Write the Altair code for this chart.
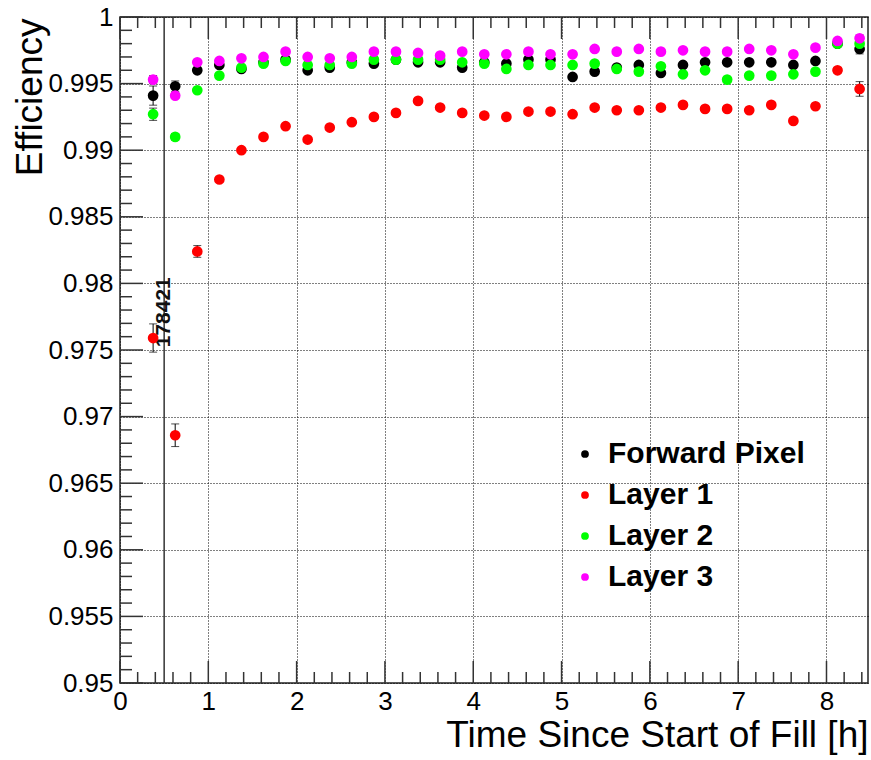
import altair as alt
import pandas as pd

# ---------------- data ----------------
times = [0.375 + 0.25 * k for k in range(33)]

fpix = [0.9941, 0.9948, 0.9960, 0.9964, 0.9961, 0.9966, 0.9968, 0.9960, 0.9962, 0.9966,
        0.9965, 0.9968, 0.9966, 0.9966, 0.9962, 0.9966, 0.9965, 0.9968, 0.9968, 0.9955,
        0.9959, 0.9962, 0.9964, 0.9958, 0.9964, 0.9966, 0.9966, 0.9966, 0.9966, 0.9964,
        0.9967, 0.9980, 0.9976]
layer1 = [0.9759, 0.9686, 0.9824, 0.9878, 0.9900, 0.9910, 0.9918, 0.9908, 0.9917, 0.9921,
          0.9925, 0.9928, 0.9937, 0.9932, 0.9928, 0.9926, 0.9925, 0.9929, 0.9929, 0.9927,
          0.9932, 0.9930, 0.9930, 0.9932, 0.9934, 0.9931, 0.9931, 0.9930, 0.9934, 0.9922,
          0.9933, 0.9960, 0.9946]
layer2 = [0.9927, 0.9910, 0.9945, 0.9956, 0.9962, 0.9965, 0.9967, 0.9964, 0.9964, 0.9965,
          0.9968, 0.9968, 0.9968, 0.9968, 0.9966, 0.9965, 0.9961, 0.9964, 0.9964, 0.9964,
          0.9965, 0.9961, 0.9959, 0.9963, 0.9957, 0.9960, 0.9953, 0.9956, 0.9956, 0.9957,
          0.9959, 0.9980, 0.9980]
layer3 = [0.9953, 0.9941, 0.9966, 0.9967, 0.9969, 0.9970, 0.9974, 0.9970, 0.9969, 0.9970,
          0.9974, 0.9974, 0.9973, 0.9971, 0.9974, 0.9972, 0.9972, 0.9974, 0.9972, 0.9972,
          0.9976, 0.9974, 0.9976, 0.9974, 0.9975, 0.9974, 0.9974, 0.9976, 0.9975, 0.9972,
          0.9977, 0.9982, 0.9984]

err_fpix = [0.00072, 0.00040, 0.00020] + [0.00012] * 28 + [0.00015, 0.00037]
err_l1 = [0.00106, 0.00085, 0.00044] + [0.00015] * 28 + [0.00020, 0.00055]
err_l2 = [0.00046, 0.00025, 0.00015] + [0.00010] * 28 + [0.00012, 0.00025]
err_l3 = [0.00030, 0.00020, 0.00012] + [0.00010] * 28 + [0.00012, 0.00025]

series_names = ["Forward Pixel", "Layer 1", "Layer 2", "Layer 3"]
series_colors = ["#000000", "#ff0000", "#00ff00", "#ff00ff"]

run_times = [0.5]
run_labels = ["178421"]
run_label_y = [0.9752]

x_tick_values = [0, 1, 2, 3, 4, 5, 6, 7, 8]
y_tick_values = [0.95, 0.955, 0.96, 0.965, 0.97, 0.975, 0.98, 0.985, 0.99, 0.995, 1.0]
x_minor_values = [round(i * 0.2, 3) for i in range(43) if i % 5 != 0]
y_minor_values = [round(0.95 + i * 0.001, 4) for i in range(51) if i % 5 != 0]

x_title = "Time Since Start of Fill [h]"
y_title = "Efficiency"

# ---------------- tables ----------------
rows = []
for name, vals, errs in zip(series_names, [fpix, layer1, layer2, layer3],
                            [err_fpix, err_l1, err_l2, err_l3]):
    for t, v, e in zip(times, vals, errs):
        rows.append({"t": t, "eff": v, "lo": v - e, "hi": v + e, "series": name})
df = pd.DataFrame(rows)

W, H = 748, 666
FONT = "Liberation Sans"

xs = alt.Scale(domain=[0, 8.47], nice=False, zero=False)
ys = alt.Scale(domain=[0.95, 1.0], nice=False, zero=False)

x_axis = alt.Axis(values=x_tick_values, format="d", title=x_title, grid=True,
                  titleX=W, titleY=63, titleAlign="right", titleBaseline="alphabetic",
                  titleAngle=0)
y_axis = alt.Axis(values=y_tick_values, format="~g", title=y_title, grid=True,
                  titleX=-79, titleY=1, titleAlign="right", titleBaseline="alphabetic",
                  titleAngle=270)


def X(field):
    return alt.X(field, scale=xs, axis=x_axis, title=x_title)


def Y(field):
    return alt.Y(field, scale=ys, axis=y_axis, title=y_title)


base = alt.Chart(df)

err_rules = base.mark_rule(color="#000000", strokeWidth=1).encode(
    x=X("t:Q"), y=Y("lo:Q"), y2="hi:Q",
)
err_lo = base.mark_tick(color="#000000", thickness=1, size=8, orient="horizontal").encode(
    x=X("t:Q"), y=Y("lo:Q"),
)
err_hi = base.mark_tick(color="#000000", thickness=1, size=8, orient="horizontal").encode(
    x=X("t:Q"), y=Y("hi:Q"),
)

points = base.mark_circle(size=115, opacity=1).encode(
    x=X("t:Q"),
    y=Y("eff:Q"),
    color=alt.Color(
        "series:N",
        scale=alt.Scale(domain=series_names, range=series_colors),
        sort=series_names,
        legend=alt.Legend(
            orient="none", legendX=450, legendY=422, title=None, padding=0,
            labelFontSize=30, labelFontWeight="bold", labelFont=FONT, labelColor="#000000",
            symbolType="circle", symbolSize=60, symbolStrokeWidth=0,
            rowPadding=11, labelOffset=8, labelLimit=400,
        ),
    ),
    order=alt.Order("order_idx:Q"),
).transform_calculate(
    order_idx="indexof(['Forward Pixel','Layer 1','Layer 2','Layer 3'], datum.series)"
)

run_df = pd.DataFrame({"t": run_times, "label": run_labels, "y": run_label_y})
run_line = alt.Chart(run_df).mark_rule(color="#333333", strokeWidth=1.5).encode(
    x=X("t:Q"),
    y=alt.value(0),
    y2=alt.value(H),
)
run_text = alt.Chart(run_df).mark_text(
    angle=270, align="left", baseline="middle", fontSize=21, fontWeight="bold",
    font=FONT, color="#111111"
).encode(
    x=X("t:Q"),
    y=Y("y:Q"),
    text="label:N",
)

tick_color = "#333333"
xmaj = pd.DataFrame({"v": x_tick_values})
xmin = pd.DataFrame({"v": x_minor_values})
ymaj = pd.DataFrame({"v": y_tick_values})
ymin = pd.DataFrame({"v": y_minor_values})


def xticks(d, length):
    bottom = alt.Chart(d).mark_rule(color=tick_color, strokeWidth=1.5).encode(
        x=X("v:Q"), y=alt.value(H), y2=alt.value(H - length))
    top = alt.Chart(d).mark_rule(color=tick_color, strokeWidth=1.5).encode(
        x=X("v:Q"), y=alt.value(0), y2=alt.value(length))
    return bottom + top


def yticks(d, length):
    return alt.Chart(d).mark_rule(color=tick_color, strokeWidth=1.5).encode(
        y=Y("v:Q"), x=alt.value(0), x2=alt.value(length))


chart = alt.layer(
    err_rules,
    xticks(xmaj, 22), xticks(xmin, 11), yticks(ymaj, 23), yticks(ymin, 12),
    run_line, run_text,
    err_lo, err_hi, points,
).properties(
    width=W, height=H,
    autosize=alt.AutoSizeParams(type="none"),
    padding={"left": 120, "top": 17, "right": 3, "bottom": 77},
    background="white",
).configure_view(
    stroke="#222222", strokeWidth=1.5
).configure_axis(
    domain=False, ticks=False, labelFont=FONT, titleFont=FONT,
    labelFontSize=26, titleFontSize=37, labelColor="#000000", titleColor="#000000",
    titleFontWeight="normal", labelFlush=False,
    gridColor="#000000", gridDash=[1, 2], gridWidth=1, gridOpacity=1,
).configure_axisX(
    labelPadding=5, labelBaseline="top"
).configure_axisY(
    labelPadding=7, labelBaseline="middle"
)

chart.save("out.html", embed_options={"renderer": "svg", "actions": False})
